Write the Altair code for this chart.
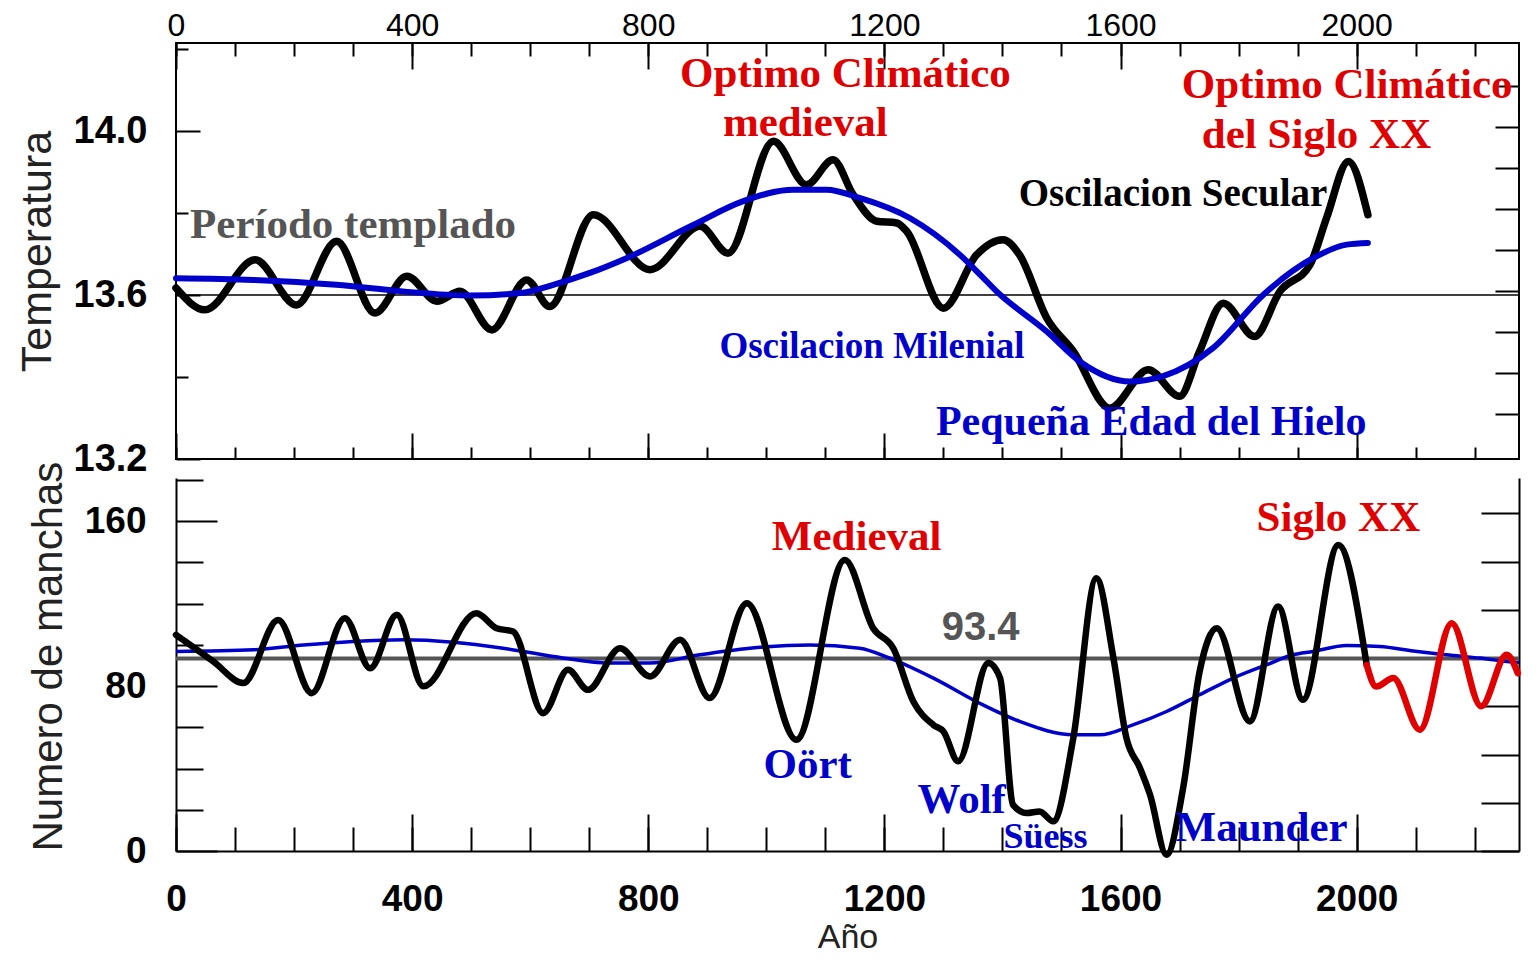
import altair as alt
import pandas as pd

# ---------------- Temperature panel (top) ----------------
temp_years = [0, 49, 134, 204, 272, 337, 391, 442, 481, 535, 594, 633, 707, 803, 888, 935,
              1012, 1068, 1113, 1147, 1187, 1221, 1238, 1300, 1356, 1401, 1429, 1475, 1520,
              1582, 1647, 1700, 1734, 1774, 1827, 1870, 1921, 1949, 1986, 2019]
temp_values = [13.617, 13.564, 13.686, 13.576, 13.731, 13.556, 13.646, 13.585, 13.609, 13.515,
               13.637, 13.572, 13.796, 13.662, 13.768, 13.702, 13.975, 13.869, 13.930, 13.845,
               13.780, 13.776, 13.755, 13.568, 13.698, 13.735, 13.698, 13.544, 13.463, 13.324,
               13.418, 13.353, 13.463, 13.580, 13.499, 13.609, 13.674, 13.788, 13.926, 13.796]

milenial_years = [0, 130, 272, 384, 498, 583, 639, 701, 763, 876, 961, 1046, 1102, 1158, 1243,
                  1328, 1362, 1390, 1475, 1531, 1616, 1672, 1757, 1842, 1926, 1983, 2019]
milenial_values = [13.641, 13.637, 13.625, 13.609, 13.599, 13.605, 13.625, 13.654, 13.690, 13.771,
                   13.829, 13.857, 13.857, 13.837, 13.788, 13.698, 13.650, 13.609, 13.511, 13.438,
                   13.389, 13.402, 13.471, 13.601, 13.690, 13.723, 13.727]
temp_reference = 13.6

# ---------------- Sunspot panel (bottom) ----------------
spot_years = [0, 24, 63, 114, 173, 230, 286, 329, 374, 419, 509, 543, 571, 622, 664, 698, 752,
              803, 854, 904, 967, 1051, 1133, 1181, 1215, 1249, 1283, 1300, 1325, 1376, 1396,
              1418, 1441, 1463, 1486, 1520, 1559, 1588, 1610, 1633, 1650, 1678, 1706, 1734,
              1763, 1819, 1867, 1909, 1969, 2017]
spot_values = [104.9, 100.0, 92.0, 81.5, 112.1, 76.6, 113.0, 88.7, 114.6, 79.9, 115.4, 108.1,
               106.5, 66.9, 87.9, 78.2, 98.4, 84.7, 102.5, 74.2, 120.2, 54.0, 141.2, 108.1,
               98.4, 72.6, 61.2, 58.0, 43.5, 91.2, 83.9, 22.4, 18.4, 19.2, 14.4, 54.8, 132.4,
               93.6, 54.8, 40.2, 27.3, -1.8, 30.5, 87.1, 108.1, 62.9, 118.6, 73.4, 148.5, 90.3]

forecast_years = [2017, 2033, 2062, 2107, 2161, 2211, 2254, 2273]
forecast_values = [90.3, 79.8, 83.9, 58.8, 110.5, 70.2, 95.2, 86.3]

spot_smooth_years = [0, 131, 216, 300, 385, 470, 554, 639, 735, 803, 887, 972, 1074, 1158, 1209,
                     1283, 1367, 1429, 1520, 1565, 1621, 1678, 1734, 1791, 1847, 1892, 1926,
                     1983, 2039, 2096, 2152, 2209, 2265, 2300]
spot_smooth_values = [96.8, 97.6, 100.0, 101.7, 102.5, 101.3, 98.4, 94.4, 91.2, 91.2, 95.2, 98.4,
                      100.0, 98.4, 93.6, 83.9, 70.9, 62.9, 56.4, 56.4, 61.2, 67.7, 75.8, 83.9,
                      90.3, 95.2, 96.8, 99.7, 99.2, 97.1, 95.2, 93.6, 91.6, 91.2]
spot_mean = 93.4
spot_mean_label_year = 1363
spot_mean_label_value = 102.3

# ---------------- Tick values ----------------
x_label_values = [0, 400, 800, 1200, 1600, 2000]
x_minor_values = list(range(0, 2201, 100))
temp_label_values = [13.2, 13.6, 14.0]
temp_minor_values = [13.4, 13.8, 14.2]
temp_right_ticks = [13.31, 13.41, 13.51, 13.61, 13.71, 13.81, 13.91, 14.01, 14.11]
spot_label_values = [0, 80, 160]
spot_minor_values = [20, 40, 60, 100, 120, 140, 180]
spot_right_ticks = [0, 23.4, 46.8, 70.2, 93.6, 117.0, 140.4, 163.8]

# ---------------- Annotations ----------------
top_note_labels = ["Optimo Climático", "medieval", "Optimo Climático", "del Siglo XX",
                   "Oscilacion Secular", "Período templado", "Oscilacion Milenial",
                   "Pequeña Edad del Hielo"]
top_note_years = [1134, 1066, 1984, 1932, 1689, 300, 1179, 1652]
top_note_values = [14.107, 13.988, 14.080, 13.959, 13.817, 13.739, 13.446, 13.259]

bot_note_labels = ["Medieval", "Siglo XX", "Oört", "Wolf", "Süess", "Maunder"]
bot_note_years = [1153, 1969, 1070, 1331, 1473, 1839]
bot_note_values = [145.9, 155.2, 35.4, 18.4, 1.5, 4.8]

# ---------------- Styling ----------------
SANS = "Liberation Sans"
SERIF = "Liberation Serif"
BLUE = "#0000cc"
RED = "#e00000"
BLACK = "#000000"
GRAY = "#555555"
PANEL_W = 1343
TOP_H = 416
BOT_H = 373

x_scale = alt.Scale(domain=[0, 2275], nice=False, zero=False)
t_scale = alt.Scale(domain=[13.2, 14.215], nice=False, zero=False)
s_scale = alt.Scale(domain=[0, 181], nice=False, zero=False)


def make_axis(orient, values, tick=0, labels=False, domain=False, **kw):
    d = dict(orient=orient, values=values, grid=False, domain=domain, labels=labels,
             ticks=tick > 0, tickSize=tick, offset=-tick, tickColor=BLACK, tickWidth=2,
             domainColor=BLACK, domainWidth=2, labelFont=SANS, labelColor=BLACK,
             labelFlush=False, labelOverlap=False, title=None, minExtent=0)
    d.update(kw)
    return alt.Axis(**d)


def notes(df, labels, yscale, color, size, font=SERIF, x_axis=None, y_axis=None):
    return alt.Chart(df).transform_filter(
        alt.FieldOneOfPredicate(field="label", oneOf=labels)
    ).mark_text(font=font, fontWeight="bold", fontSize=size, color=color,
                align="center", baseline="alphabetic").encode(
        x=alt.X("year:Q", scale=x_scale, axis=x_axis),
        y=alt.Y("value:Q", scale=yscale, axis=y_axis),
        text="label:N",
    )


# ---------------- Top panel ----------------
temp_df = pd.DataFrame({"year": temp_years, "value": temp_values})
mil_df = pd.DataFrame({"year": milenial_years, "value": milenial_values})
tref_df = pd.DataFrame({"value": [temp_reference]})
top_notes_df = pd.DataFrame({"label": top_note_labels, "year": top_note_years,
                             "value": top_note_values})

top_ref = alt.Chart(tref_df).mark_rule(color=BLACK, strokeWidth=1.5).encode(
    y=alt.Y("value:Q", scale=t_scale, axis=make_axis("left", temp_minor_values, tick=12))
)
top_black = alt.Chart(temp_df).mark_line(color=BLACK, strokeWidth=7.5, interpolate="monotone",
                                         strokeJoin="round", strokeCap="round").encode(
    x=alt.X("year:Q", scale=x_scale, axis=make_axis("top", x_minor_values, tick=13)),
    y=alt.Y("value:Q", scale=t_scale, axis=make_axis("left", temp_label_values, tick=24)),
)
top_blue = alt.Chart(mil_df).mark_line(color=BLUE, strokeWidth=6, interpolate="monotone",
                                       strokeCap="round").encode(
    x=alt.X("year:Q", scale=x_scale,
            axis=make_axis("top", x_label_values, tick=26, labels=True, format="d",
                           labelFontSize=32, labelPadding=1)),
    y=alt.Y("value:Q", scale=t_scale,
            axis=make_axis("left", temp_label_values, labels=True, format=".1f",
                           labelFontSize=38, labelFontWeight="bold", labelPadding=29,
                           title="Temperatura", titleFont=SANS, titleFontSize=43,
                           titleFontWeight="normal", titleColor="#222222", titlePadding=14)),
)

top_layers = [
    top_ref, top_black, top_blue,
    notes(top_notes_df, ["Optimo Climático", "medieval", "del Siglo XX"], t_scale, RED, 43,
          x_axis=make_axis("bottom", x_label_values, tick=26),
          y_axis=make_axis("right", temp_right_ticks, tick=24)),
    notes(top_notes_df, ["Período templado"], t_scale, GRAY, 43,
          x_axis=make_axis("bottom", x_minor_values, tick=12)),
    notes(top_notes_df, ["Oscilacion Secular"], t_scale, BLACK, 39),
    notes(top_notes_df, ["Oscilacion Milenial"], t_scale, BLUE, 37),
    notes(top_notes_df, ["Pequeña Edad del Hielo"], t_scale, BLUE, 42),
]
top = alt.layer(*top_layers).resolve_axis(x="independent", y="independent").properties(
    width=PANEL_W, height=TOP_H,
    view=alt.ViewBackground(stroke=BLACK, strokeWidth=2),
)

# ---------------- Bottom panel ----------------
spot_df = pd.DataFrame({"year": spot_years, "value": spot_values})
fc_df = pd.DataFrame({"year": forecast_years, "value": forecast_values})
sm_df = pd.DataFrame({"year": spot_smooth_years, "value": spot_smooth_values})
mean_df = pd.DataFrame({"value": [spot_mean]})
mean_lbl_df = pd.DataFrame({"label": [f"{spot_mean}"], "year": [spot_mean_label_year],
                            "value": [spot_mean_label_value]})
bot_notes_df = pd.DataFrame({"label": bot_note_labels, "year": bot_note_years,
                             "value": bot_note_values})

bot_mean = alt.Chart(mean_df).mark_rule(color=GRAY, strokeWidth=4).encode(
    y=alt.Y("value:Q", scale=s_scale, axis=make_axis("right", spot_right_ticks, tick=38))
)
bot_blue = alt.Chart(sm_df).mark_line(color=BLUE, strokeWidth=3.5, interpolate="monotone",
                                      clip=True).encode(
    x=alt.X("year:Q", scale=x_scale,
            axis=make_axis("bottom", x_label_values, labels=True, domain=True, format="d",
                           labelFontSize=37, labelFontWeight="bold", labelPadding=30,
                           title="Año", titleFont=SANS, titleFontSize=34,
                           titleFontWeight="normal", titleColor="#222222", titlePadding=3)),
    y=alt.Y("value:Q", scale=s_scale,
            axis=make_axis("left", spot_label_values, labels=True, domain=True, format="d",
                           labelFontSize=37, labelFontWeight="bold", labelPadding=30,
                           title="Numero de manchas", titleFont=SANS, titleFontSize=42,
                           titleFontWeight="normal", titleColor="#222222", titlePadding=14,
                           titleAnchor="start")),
)
bot_black = alt.Chart(spot_df).mark_line(color=BLACK, strokeWidth=6.5, interpolate="monotone",
                                         strokeJoin="round", strokeCap="round").encode(
    x=alt.X("year:Q", scale=x_scale, axis=make_axis("bottom", x_label_values, tick=37)),
    y=alt.Y("value:Q", scale=s_scale, axis=make_axis("left", spot_label_values, tick=41)),
)
bot_red = alt.Chart(fc_df).mark_line(color=RED, strokeWidth=6.5, interpolate="monotone",
                                     strokeJoin="round", strokeCap="round").encode(
    x=alt.X("year:Q", scale=x_scale, axis=make_axis("bottom", x_minor_values, tick=24)),
    y=alt.Y("value:Q", scale=s_scale, axis=make_axis("left", spot_minor_values, tick=27)),
)
bot_mean_lbl = alt.Chart(mean_lbl_df).mark_text(
    font=SANS, fontWeight="bold", fontSize=40, color=GRAY, align="center", baseline="alphabetic"
).encode(
    x=alt.X("year:Q", scale=x_scale, axis=None),
    y=alt.Y("value:Q", scale=s_scale, axis=make_axis("right", [0], domain=True)),
    text="label:N",
)

bot_layers = [
    bot_mean, bot_blue, bot_black, bot_red, bot_mean_lbl,
    notes(bot_notes_df, ["Medieval", "Siglo XX"], s_scale, RED, 43),
    notes(bot_notes_df, ["Oört", "Wolf", "Maunder"], s_scale, BLUE, 43),
    notes(bot_notes_df, ["Süess"], s_scale, BLUE, 36),
]
bottom = alt.layer(*bot_layers).resolve_axis(x="independent", y="independent").properties(
    width=PANEL_W, height=BOT_H,
    view=alt.ViewBackground(stroke="transparent"),
)

chart = alt.vconcat(top, bottom, spacing=19, bounds="flush").configure(
    background="white",
    padding={"left": 7, "top": 0, "right": 0, "bottom": 0},
)

chart.save("out.html", embed_options={"renderer": "svg", "actions": False})
